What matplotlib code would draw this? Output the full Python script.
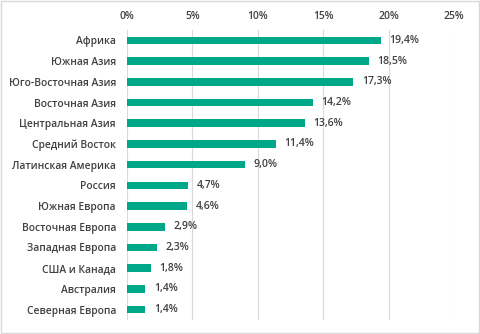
import matplotlib.pyplot as plt
from matplotlib.patches import Rectangle
from matplotlib.ticker import FuncFormatter

# regions and their shares (%)
regions = ["Африка", "Южная Азия", "Юго-Восточная Азия", "Восточная Азия",
           "Центральная Азия", "Средний Восток", "Латинская Америка", "Россия",
           "Южная Европа", "Восточная Европа", "Западная Европа", "США и Канада",
           "Австралия", "Северная Европа"]
shares = [19.4, 18.5, 17.3, 14.2, 13.6, 11.4, 9.0, 4.7, 4.6, 2.9, 2.3, 1.8, 1.4, 1.4]
xticks = [0, 5, 10, 15, 20, 25]

plt.rcParams['font.family'] = ['Open Sans', 'DejaVu Sans']
plt.rcParams['font.weight'] = 'semibold'
txt = '#404040'
fs = 7.4

fig = plt.figure(figsize=(4.8, 3.34), dpi=100)
ax = fig.add_axes([127/480, 1 - 320/334, (454-127)/480, (320-30)/334])

pos = list(range(len(regions)))
ax.barh(pos, shares, height=0.36, color='#00A88A', zorder=3)
for p, v in zip(pos, shares):
    ax.text(v + 0.65, p, f"{v:.1f}%".replace('.', ','), va='center', ha='left',
            fontsize=fs + 0.2, color=txt, fontweight='semibold')

ax.set_xlim(0, 25)
ax.set_ylim(len(regions) - 0.5, -0.5)
ax.set_xticks(xticks)
ax.xaxis.set_major_formatter(FuncFormatter(lambda x, _: f"{x:.0f}%"))
ax.xaxis.tick_top()
ax.set_yticks(pos)
ax.set_yticklabels(regions, fontweight='semibold')
for lbl in ax.get_xticklabels():
    lbl.set_fontweight('semibold')
ax.tick_params(axis='both', length=0, labelsize=fs, colors=txt)
ax.tick_params(axis='x', pad=6)
ax.tick_params(axis='y', pad=8)
ax.grid(axis='x', color='#d9d9d9', linewidth=0.8, zorder=0)
for s in ax.spines.values():
    s.set_visible(False)

fig.patches.append(Rectangle((0.002, 0.003), 0.995, 0.993, transform=fig.transFigure,
                             fill=False, edgecolor='#d9d9d9', linewidth=1))

fig.savefig('out.png', dpi=100)
